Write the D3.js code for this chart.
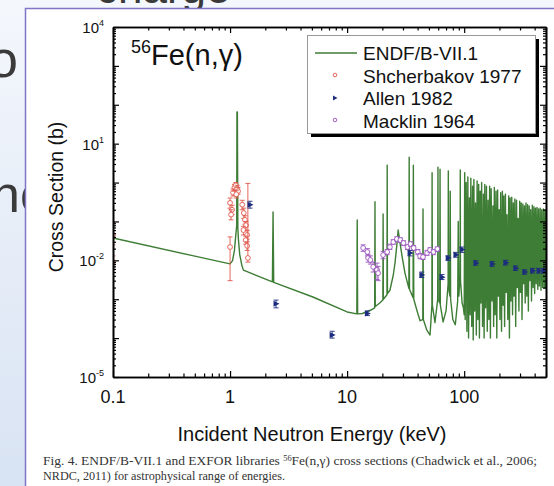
<!DOCTYPE html>
<html>
<head>
<meta charset="utf-8">
<script src="https://d3js.org/d3.v7.min.js"></script>
<style>
  body { margin: 0; overflow: hidden; background: #fff; }
  text { font-family: "Liberation Sans", Arial, sans-serif; }
</style>
</head>
<body>
<svg width="554" height="486"></svg>
<script>
// ENDF/B-VII.1 56Fe(n,g) curve: [keV, barns]
var endfLow = [
  [0.1, 0.0375], [0.5, 0.0128], [1.0, 0.0081], [1.05, 0.0098], [1.09, 0.018],
  [1.12, 0.045], [1.14, 0.08], [1.145, 65], [1.155, 65], [1.165, 0.07],
  [1.18, 0.033], [1.21, 0.014], [1.26, 0.0075], [1.3, 0.0056], [2.3, 0.0028],
  [2.33, 0.175], [2.36, 0.0027], [5.1, 0.00114], [10, 0.00047], [12.1, 0.00042],
  [12.2, 0.109], [12.3, 0.00042], [13.5, 0.00043], [15.8, 0.00052], [17.2, 0.0006],
  [17.3, 0.32], [17.4, 0.00065], [19.0, 0.0008], [20.2, 0.00095], [20.3, 0.155],
  [20.4, 0.001], [21.9, 0.0013], [22.0, 2.8], [22.1, 0.0014], [23.2, 0.0017],
  [24.8, 0.0042], [25.7, 0.009], [26.6, 0.025], [27.3, 0.06]
];
var endfMid = [
  [28.3, 0.028], [29.7, 0.011], [31.2, 0.0047], [33.7, 0.0019], [33.9, 4.5],
  [34.1, 0.0018], [36.6, 0.0011], [36.8, 2.8], [37.1, 0.001], [40.0, 0.00045],
  [42.0, 0.00028], [44.3, 0.0003], [44.5, 0.21], [44.8, 0.0003], [48.0, 0.00016],
  [51.1, 0.00012], [53.0, 0.0007], [53.2, 1.8], [53.5, 0.0007], [56.3, 0.00025],
  [59.4, 0.001], [59.7, 2.5], [60.0, 0.001], [61.8, 0.0008], [62.2, 2.2],
  [62.6, 0.0007], [66.0, 0.00026], [70.0, 0.0005], [72.9, 0.0025], [73.2, 2.0],
  [73.6, 0.002], [75.5, 0.0012], [76.0, 0.6], [76.6, 0.001], [80.0, 0.0003],
  [84.0, 0.00022], [88.0, 0.0009], [89.0, 0.1], [90.0, 0.0012], [92.3, 0.004],
  [92.6, 2.1], [93.0, 0.003], [96.0, 0.0008], [98.5, 0.0006]
];
var endfDense = [
  [100, 0.0004], [101, 1.8], [102, 0.0003], [104, 1.0], [105.5, 0.00015], [107.5, 1.4],
  [109, 0.0001], [111, 0.4], [112.5, 0.0004], [114, 1.3], [116, 0.0002], [118, 0.8],
  [119.5, 0.00009], [121, 1.2], [123, 0.0005], [125, 0.3], [127, 0.00012], [129, 1.1],
  [131, 0.0003], [133, 0.9], [135, 0.0001], [137, 0.6], [139, 0.0008], [141, 1.0],
  [143.5, 0.0002], [146, 0.5], [148, 0.0001], [150, 0.9], [152.5, 0.0006], [155, 0.8],
  [157.5, 0.00015], [160, 0.35], [162.5, 0.0003], [165, 0.8], [167.5, 0.0001], [170, 0.7],
  [173, 0.0009], [176, 0.25], [178.5, 0.0002], [181, 0.75], [184, 0.0004], [187, 0.6],
  [190, 0.0001], [193, 0.65], [196, 0.0012], [199, 0.2], [202, 0.0003], [205, 0.55],
  [208.5, 0.00015], [212, 0.6], [215, 0.0007], [218, 0.45], [221.5, 0.0002], [225, 0.5],
  [228.5, 0.0015], [232, 0.15], [236, 0.0003], [240, 0.45], [243.5, 0.0001], [247, 0.4],
  [251, 0.0009], [255, 0.42], [259, 0.0004], [263, 0.3], [267, 0.0012], [271, 0.38],
  [275.5, 0.0002], [280, 0.35], [284.5, 0.002], [289, 0.12], [293.5, 0.0005], [298, 0.33],
  [302.5, 0.0015], [307, 0.3], [312, 0.0003], [317, 0.28], [322, 0.0025], [327, 0.25],
  [332, 0.0008], [337, 0.3], [342.5, 0.0012], [348, 0.27], [353.5, 0.0005], [359, 0.25],
  [364.5, 0.003], [370, 0.2], [376, 0.0009], [382, 0.26], [388, 0.002], [394, 0.24],
  [400, 0.0014], [406, 0.22], [412.5, 0.0025], [419, 0.23], [425.5, 0.0018], [432, 0.21],
  [439, 0.0022], [446, 0.22], [453, 0.0017], [460, 0.2], [467.5, 0.002], [475, 0.21],
  [482.5, 0.0019], [490, 0.2], [495, 0.002], [500, 0.2]
];

// EXFOR points: [keV, value, low, high]
var shcherbakov = [
  [0.1, 0.045, 0.025, 0.094], [0.1, 0.0091, 0.0067, 0.013],
  [1.0, 0.022, 0.003, 0.04], [1.0, 0.3, 0.22, 0.4], [1.04, 0.2, 0.15, 0.26],
  [1.02, 0.15, 0.11, 0.2], [1.06, 0.55, 0.45, 0.68], [1.09, 0.75, 0.6, 0.9],
  [1.12, 0.85, 0.7, 1.0], [1.15, 0.7, 0.55, 0.85], [1.17, 0.6, 0.5, 0.75],
  [1.13, 0.5, 0.4, 0.62], [1.27, 0.27, 0.2, 0.35], [1.31, 0.165, 0.12, 0.22],
  [1.34, 0.11, 0.085, 0.14], [1.37, 0.08, 0.06, 0.1], [1.3, 0.06, 0.045, 0.075],
  [1.4, 0.045, 0.035, 0.058], [1.36, 0.033, 0.026, 0.042], [1.4, 0.0235, 0.018, 0.03],
  [1.42, 0.0115, 0.009, 0.95]
];
var allen = [
  [1.48, 0.27, 0.22, 0.33], [2.47, 0.00077, 0.0006, 0.00095], [7.45, 0.00012, 0.0001, 0.00015],
  [14.9, 0.00043, 0.00038, 0.0005], [34.5, 0.0155, 0.013, 0.018], [43.5, 0.0042, 0.0036, 0.005],
  [64.7, 0.0037, 0.0032, 0.0043], [73, 0.0115, 0.01, 0.013], [85, 0.014, 0.012, 0.016],
  [96, 0.019, 0.016, 0.022], [126, 0.0086, 0.0075, 0.0098], [174, 0.0081, 0.007, 0.0093],
  [227, 0.0087, 0.0076, 0.01], [276, 0.0063, 0.0055, 0.0072], [330, 0.005, 0.0044, 0.0057],
  [385, 0.0054, 0.0047, 0.0062], [436, 0.0054, 0.0047, 0.0062], [481, 0.0054, 0.0047, 0.0062]
];
var macklin = [
  [13.7, 0.0208, 0.017, 0.025], [14.9, 0.0164, 0.013, 0.02], [15.1, 0.0115, 0.009, 0.014],
  [15.8, 0.0102, 0.008, 0.013], [16.7, 0.0068, 0.005, 0.009], [18.0, 0.0057, 0.0032, 0.0085],
  [18.4, 0.0047, 0.003, 0.007], [20.3, 0.0137, 0.011, 0.017], [22.0, 0.0164, 0.014, 0.019],
  [23.2, 0.022, 0.019, 0.026], [24.8, 0.0296, 0.026, 0.034], [26.6, 0.0354, 0.031, 0.04],
  [28.5, 0.0333, 0.029, 0.038], [30.3, 0.0279, 0.024, 0.032], [32.8, 0.022, 0.019, 0.025],
  [34.8, 0.0263, 0.023, 0.03], [37.0, 0.0208, 0.018, 0.024], [40.2, 0.0164, 0.014, 0.019],
  [42.0, 0.0129, 0.011, 0.015], [44.5, 0.0122, 0.0105, 0.014], [48.2, 0.0155, 0.0135, 0.018],
  [51.1, 0.0185, 0.016, 0.021], [54.6, 0.0164, 0.014, 0.019], [59.0, 0.0196, 0.017, 0.022]
];

var xLabels = [0.1, 1, 10, 100];
var yLabels = [[1e4, "4"], [1e1, "1"], [1e-2, "-2"], [1e-5, "-5"]];
var legendNames = ["ENDF/B-VII.1", "Shcherbakov 1977", "Allen 1982", "Macklin 1964"];

var green = "#3e7d35", red = "#e0584c", navy = "#1c2c7e", purple = "#9a55bd";

var svg = d3.select("svg");

// slide behind the figure
var bg = svg.append("defs").append("linearGradient").attr("id", "bg")
    .attr("x1", 0).attr("y1", 0).attr("x2", 0).attr("y2", 1);
bg.append("stop").attr("offset", 0).attr("stop-color", "#f4f7fc");
bg.append("stop").attr("offset", 1).attr("stop-color", "#d8e3f3");
svg.append("rect").attr("width", 554).attr("height", 486).attr("fill", "url(#bg)");
svg.append("text").attr("x", 96).attr("y", 3).attr("font-size", 44).attr("fill", "#3a3a3a").text("charge");
svg.append("text").attr("x", 18).attr("y", 77).attr("text-anchor", "end").attr("font-size", 52).attr("fill", "#3a3a3a").text("o");
svg.append("text").attr("x", -9).attr("y", 212).attr("font-size", 52).attr("fill", "#3a3a3a").text("nce");

// figure panel
svg.append("rect").attr("x", 25.5).attr("y", 8.5).attr("width", 560).attr("height", 500)
    .attr("fill", "#fff").attr("stroke", "#7f76c8").attr("stroke-width", 1.5);

var x = d3.scaleLog().domain([0.1, 500]).range([113, 546]);
var y = d3.scaleLog().domain([1e-5, 1e4]).range([377, 27]);

svg.append("clipPath").attr("id", "clip").append("rect")
    .attr("x", 113).attr("y", 27).attr("width", 433).attr("height", 350);

var plot = svg.append("g").attr("clip-path", "url(#clip)");

var line = d3.line().x(function(d) { return x(d[0]); }).y(function(d) { return y(d[1]); });
plot.append("path").datum(endfLow.concat(endfMid, endfDense))
    .attr("d", line).attr("fill", "none").attr("stroke", green)
    .attr("stroke-width", 1.4).attr("stroke-linejoin", "round");

function errorPoints(data, color, marker) {
  var g = plot.append("g").attr("stroke", color).attr("fill", "none").attr("stroke-width", 0.9);
  var pts = g.selectAll("g").data(data).enter().append("g")
      .attr("transform", function(d) { return "translate(" + x(d[0]) + ",0)"; });
  pts.append("line").attr("y1", function(d) { return y(d[2]); }).attr("y2", function(d) { return y(d[3]); });
  pts.append("line").attr("x1", -2.5).attr("x2", 2.5)
      .attr("y1", function(d) { return y(d[2]); }).attr("y2", function(d) { return y(d[2]); });
  pts.append("line").attr("x1", -2.5).attr("x2", 2.5)
      .attr("y1", function(d) { return y(d[3]); }).attr("y2", function(d) { return y(d[3]); });
  if (marker === "tri") {
    pts.append("path").attr("d", function(d) {
      var cy = y(d[1]);
      return "M-2.5," + (cy - 3) + "L3.5," + cy + "L-2.5," + (cy + 3) + "Z";
    }).attr("fill", color).attr("stroke", "none");
  } else {
    pts.append("circle").attr("cy", function(d) { return y(d[1]); }).attr("r", 2.4).attr("fill", "#fff");
  }
}
errorPoints(shcherbakov, red, "circle");
errorPoints(macklin, purple, "circle");
errorPoints(allen, navy, "tri");

// axes with inward ticks on all four sides
var xMinor = [], yMinor = [];
[0.1, 1, 10, 100].forEach(function(dec) {
  for (var k = 2; k <= 9; k++) if (dec * k <= 500) xMinor.push(dec * k);
});
var yMajor = [];
for (var p = -5; p <= 4; p++) {
  yMajor.push(Math.pow(10, p));
  if (p < 4) for (var k = 2; k <= 9; k++) yMinor.push(k * Math.pow(10, p));
}
var axes = svg.append("g");
function addAxis(axisFn, scale, vals, size, tr) {
  var a = axisFn(scale).tickValues(vals).tickSizeInner(-size).tickSizeOuter(0).tickFormat("");
  var g = axes.append("g").attr("transform", tr).call(a);
  g.select(".domain").attr("stroke-width", 1.6);
  g.selectAll(".tick line").attr("stroke-width", 1.2);
}
addAxis(d3.axisBottom, x, xLabels, 6, "translate(0,377)");
addAxis(d3.axisBottom, x, xMinor, 3.5, "translate(0,377)");
addAxis(d3.axisTop, x, xLabels, 6, "translate(0,27)");
addAxis(d3.axisTop, x, xMinor, 3.5, "translate(0,27)");
addAxis(d3.axisLeft, y, yMajor, 6, "translate(113,0)");
addAxis(d3.axisLeft, y, yMinor, 3, "translate(113,0)");
addAxis(d3.axisRight, y, yMajor, 6, "translate(546,0)");
addAxis(d3.axisRight, y, yMinor, 3, "translate(546,0)");

axes.selectAll("text.xl").data(xLabels).enter().append("text")
    .attr("x", function(d) { return x(d); }).attr("y", 403)
    .attr("text-anchor", "middle").attr("font-size", 18).attr("fill", "#111")
    .text(function(d) { return d; });
var yl = axes.selectAll("text.yl").data(yLabels).enter().append("text")
    .attr("x", 104).attr("y", function(d) { return y(d[0]) + 6; })
    .attr("text-anchor", "end").attr("font-size", 15).attr("fill", "#111");
yl.append("tspan").text("10");
yl.append("tspan").attr("dy", -7).attr("font-size", 9).text(function(d) { return d[1]; });

svg.append("text").attr("x", 312).attr("y", 441).attr("text-anchor", "middle")
    .attr("font-size", 20).attr("fill", "#111").text("Incident Neutron Energy (keV)");
svg.append("text").attr("transform", "translate(63,197) rotate(-90)").attr("text-anchor", "middle")
    .attr("font-size", 19.5).attr("fill", "#111").text("Cross Section (b)");

// reaction label
var title = svg.append("text").attr("x", 131).attr("y", 65).attr("font-size", 29).attr("fill", "#111");
title.append("tspan").attr("font-size", 18).attr("dy", -12).text("56");
title.append("tspan").attr("dy", 12).text("Fe(n,\u03b3)");

// legend
var lg = svg.append("g");
lg.append("rect").attr("x", 311).attr("y", 39).attr("width", 228).attr("height", 98).attr("fill", "#000");
lg.append("rect").attr("x", 307.5).attr("y", 35.5).attr("width", 228).attr("height", 98)
    .attr("fill", "#fff").attr("stroke", "#999").attr("stroke-width", 1);
lg.append("line").attr("x1", 315).attr("x2", 357).attr("y1", 53).attr("y2", 53)
    .attr("stroke", green).attr("stroke-width", 1.3);
lg.append("circle").attr("cx", 335).attr("cy", 75).attr("r", 1.8).attr("fill", "#fff").attr("stroke", red).attr("stroke-width", 0.9);
lg.append("path").attr("d", "M333,95.5L337.5,98L333,100.5Z").attr("fill", navy);
lg.append("circle").attr("cx", 335).attr("cy", 120).attr("r", 1.8).attr("fill", "#fff").attr("stroke", purple).attr("stroke-width", 0.9);
lg.selectAll("text.lt").data(legendNames).enter().append("text")
    .attr("x", 363).attr("y", function(d, i) { return 60 + i * 22.5; })
    .attr("font-size", 19).attr("fill", "#111").text(function(d) { return d; });

// caption, set in a serif face, one text per line
var cap1 = svg.append("text").style("font-family", "'Liberation Serif', 'DejaVu Serif', serif")
    .attr("x", 43).attr("y", 465).attr("font-size", 12).attr("fill", "#333")
    .attr("textLength", 494).attr("lengthAdjust", "spacingAndGlyphs");
cap1.append("tspan").text("Fig. 4. ENDF/B-VII.1 and EXFOR libraries ");
cap1.append("tspan").attr("font-size", 7.5).attr("dy", -4).text("56");
cap1.append("tspan").attr("dy", 4).text("Fe(n,\u03b3) cross sections (Chadwick et al., 2006;");
svg.append("text").style("font-family", "'Liberation Serif', 'DejaVu Serif', serif")
    .attr("x", 43).attr("y", 480).attr("font-size", 12).attr("fill", "#333")
    .attr("textLength", 242).attr("lengthAdjust", "spacingAndGlyphs")
    .text("NRDC, 2011) for astrophysical range of energies.");
</script>
</body>
</html>
